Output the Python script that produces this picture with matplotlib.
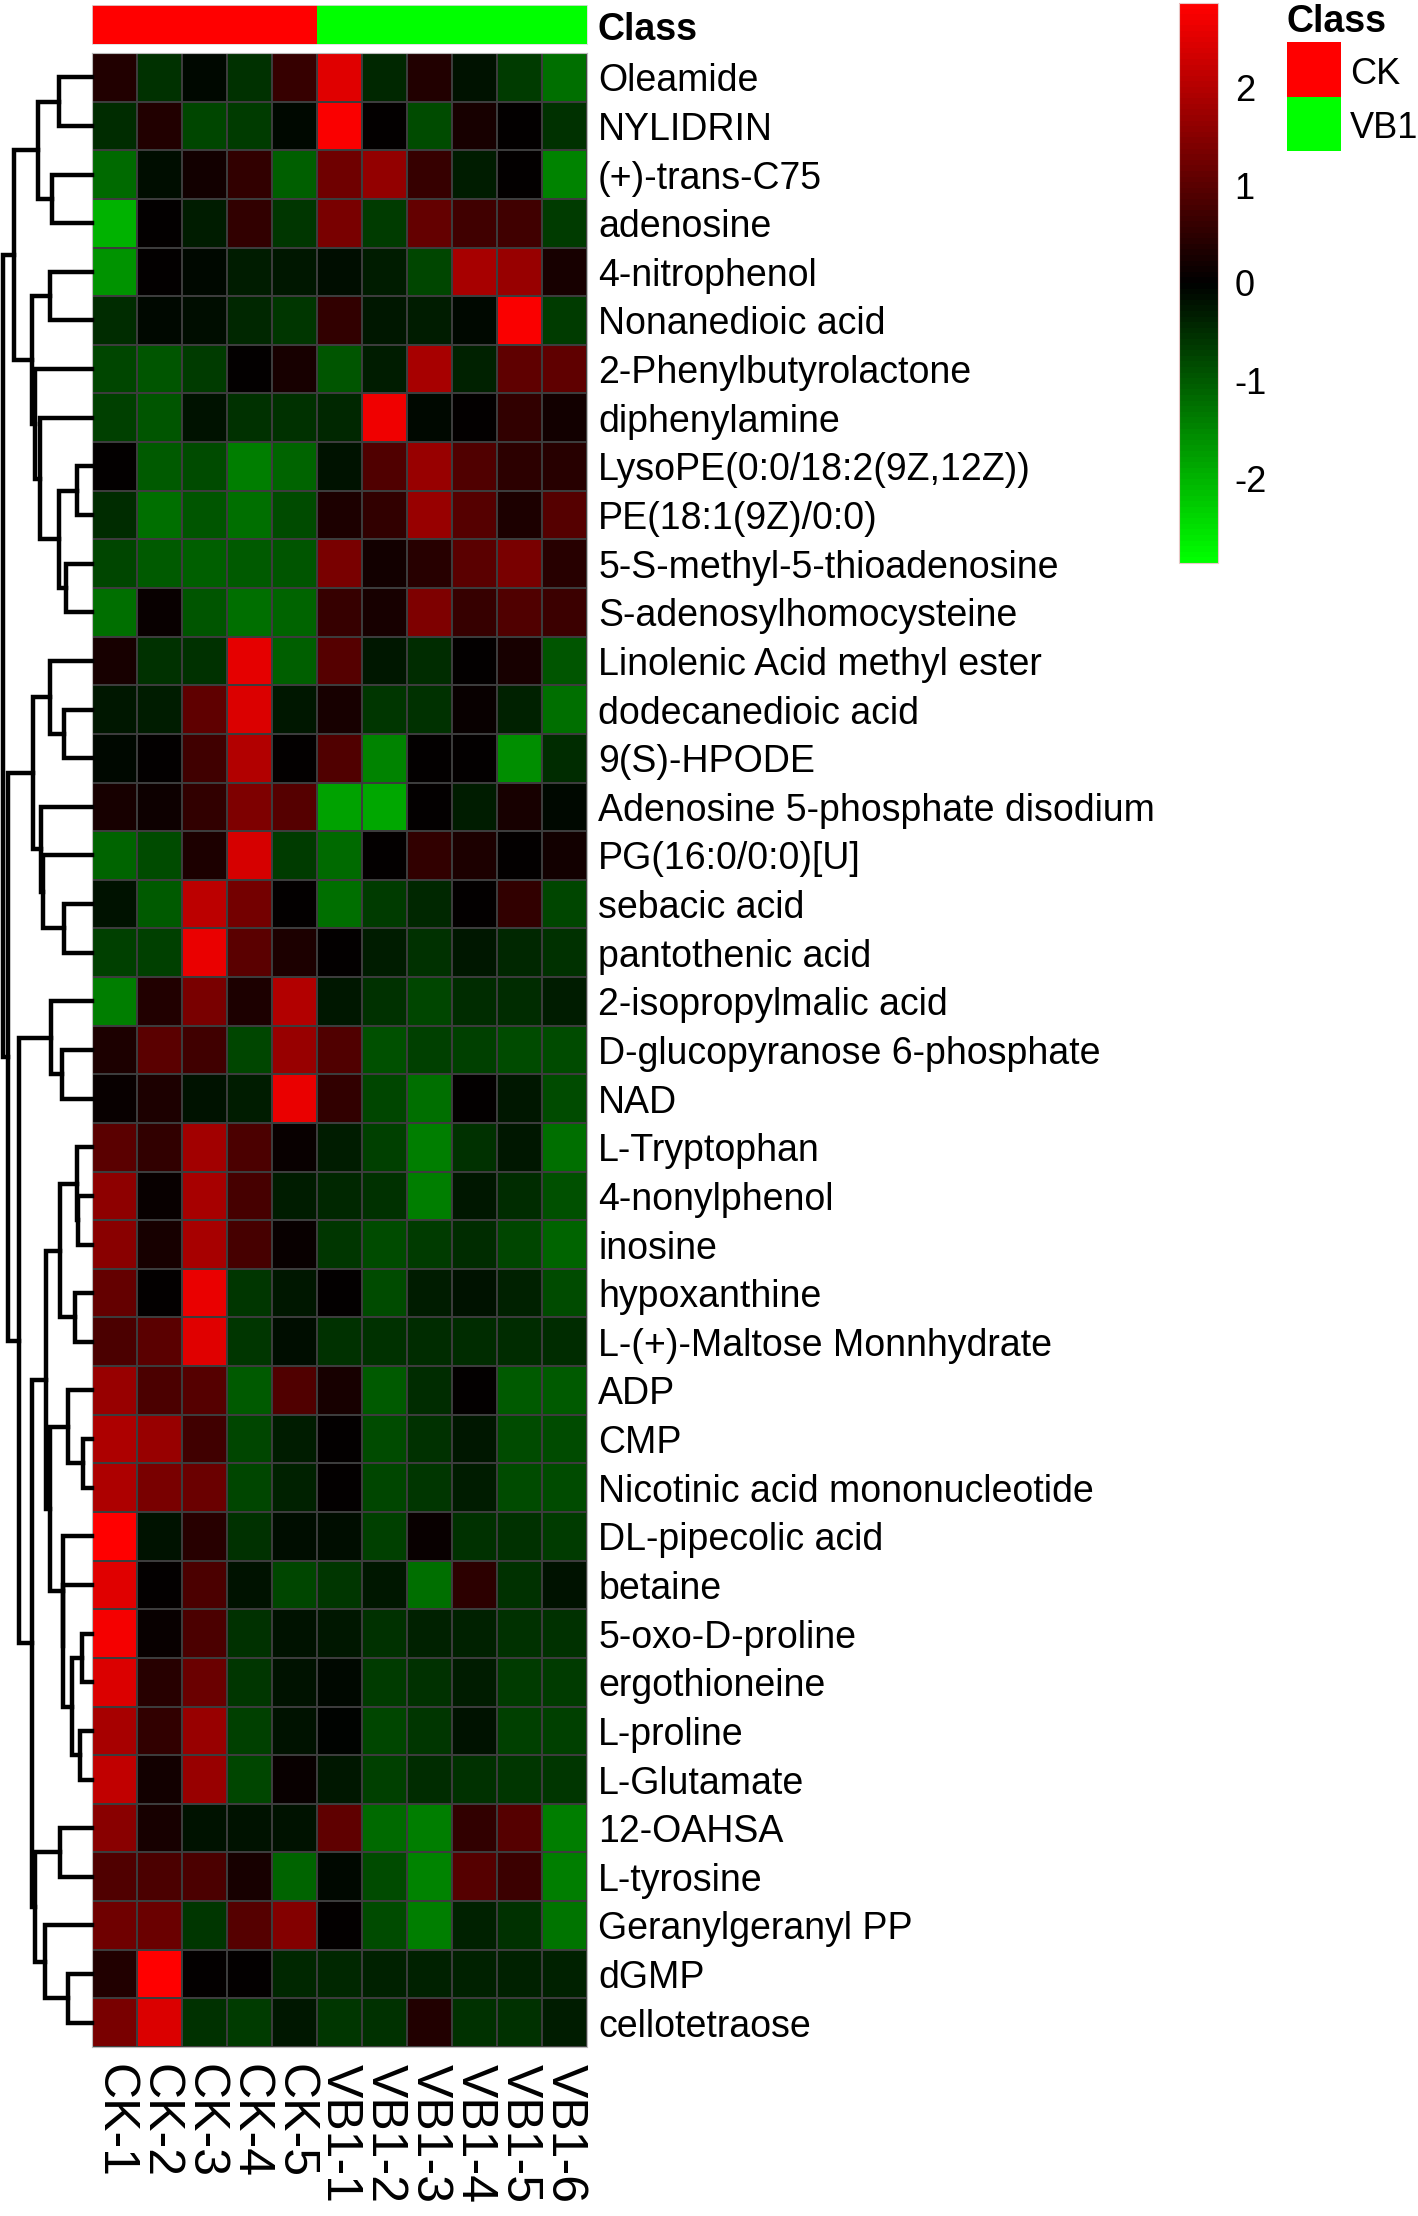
import numpy as np
import matplotlib
matplotlib.use("Agg")
import matplotlib.pyplot as plt
from matplotlib.colors import LinearSegmentedColormap, ListedColormap
from matplotlib.patches import Rectangle

plt.rcParams['font.family'] = ['Liberation Sans', 'DejaVu Sans']
plt.rcParams['axes.unicode_minus'] = False

# samples (columns) and their class
samples = ['CK-1', 'CK-2', 'CK-3', 'CK-4', 'CK-5',
           'VB1-1', 'VB1-2', 'VB1-3', 'VB1-4', 'VB1-5', 'VB1-6']
sample_class = ['CK', 'CK', 'CK', 'CK', 'CK',
                'VB1', 'VB1', 'VB1', 'VB1', 'VB1', 'VB1']
class_names = ['CK', 'VB1']
class_colors = ['#ff0000', '#00ff00']

metabolites = [
    'Oleamide', 'NYLIDRIN', '(+)-trans-C75', 'adenosine', '4-nitrophenol',
    'Nonanedioic acid', '2-Phenylbutyrolactone', 'diphenylamine',
    'LysoPE(0:0/18:2(9Z,12Z))', 'PE(18:1(9Z)/0:0)', '5-S-methyl-5-thioadenosine',
    'S-adenosylhomocysteine', 'Linolenic Acid methyl ester', 'dodecanedioic acid',
    '9(S)-HPODE', 'Adenosine 5-phosphate disodium', 'PG(16:0/0:0)[U]',
    'sebacic acid', 'pantothenic acid', '2-isopropylmalic acid',
    'D-glucopyranose 6-phosphate', 'NAD', 'L-Tryptophan', '4-nonylphenol',
    'inosine', 'hypoxanthine', 'L-(+)-Maltose Monnhydrate', 'ADP', 'CMP',
    'Nicotinic acid mononucleotide', 'DL-pipecolic acid', 'betaine',
    '5-oxo-D-proline', 'ergothioneine', 'L-proline', 'L-Glutamate',
    '12-OAHSA', 'L-tyrosine', 'Geranylgeranyl PP', 'dGMP', 'cellotetraose']

# row z-scores, one list per metabolite, columns in sample order
z = [
    [0.36, -0.57, -0.11, -0.57, 0.63, 2.52, -0.45, 0.38, -0.18, -0.65, -1.26],
    [-0.47, 0.36, -0.77, -0.65, -0.11, 2.76, 0.0, -0.81, 0.27, 0.0, -0.54],
    [-1.19, -0.14, 0.18, 0.54, -1.08, 1.26, 1.62, 0.63, -0.34, 0.05, -1.44],
    [-1.98, 0.0, -0.34, 0.54, -0.63, 1.35, -0.65, 1.10, 0.72, 0.74, -0.65],
    [-1.62, 0.0, -0.11, -0.34, -0.27, -0.14, -0.32, -0.77, 1.89, 1.71, 0.23],
    [-0.50, -0.07, -0.14, -0.43, -0.63, 0.54, -0.23, -0.32, -0.07, 2.76, -0.65],
    [-0.77, -0.95, -0.68, 0.0, 0.23, -0.92, -0.32, 1.89, -0.36, 1.08, 1.08],
    [-0.72, -0.95, -0.18, -0.54, -0.54, -0.41, 2.68, -0.07, 0.0, 0.56, 0.20],
    [0.0, -0.99, -0.86, -1.40, -1.10, -0.18, 0.90, 1.71, 0.90, 0.50, 0.45],
    [-0.47, -1.22, -0.92, -1.22, -0.81, 0.32, 0.54, 1.69, 0.97, 0.34, 0.92],
    [-0.77, -1.01, -1.06, -1.01, -0.92, 1.35, 0.20, 0.41, 1.01, 1.33, 0.45],
    [-1.26, 0.07, -0.92, -1.22, -1.13, 0.59, 0.25, 1.40, 0.61, 0.90, 0.65],
    [0.27, -0.54, -0.54, 2.54, -1.04, 0.97, -0.27, -0.50, 0.0, 0.23, -0.92],
    [-0.27, -0.29, 1.08, 2.43, -0.23, 0.23, -0.63, -0.52, 0.11, -0.38, -1.26],
    [-0.11, 0.0, 0.72, 1.96, 0.0, 0.90, -1.46, 0.0, 0.0, -1.58, -0.47],
    [0.27, 0.14, 0.54, 1.40, 0.92, -1.80, -1.89, 0.0, -0.29, 0.27, -0.11],
    [-1.13, -0.86, 0.29, 2.39, -0.68, -1.19, 0.0, 0.54, 0.29, 0.05, 0.20],
    [-0.20, -0.99, 2.12, 1.31, 0.0, -1.24, -0.65, -0.45, 0.0, 0.56, -0.77],
    [-0.72, -0.72, 2.59, 1.01, 0.29, 0.0, -0.29, -0.52, -0.25, -0.41, -0.52],
    [-1.40, 0.36, 1.35, 0.29, 1.98, -0.25, -0.56, -0.77, -0.50, -0.50, -0.29],
    [0.32, 1.01, 0.74, -0.77, 1.69, 0.88, -0.88, -0.72, -0.72, -0.83, -0.83],
    [0.09, 0.32, -0.20, -0.32, 2.63, 0.54, -0.77, -1.22, 0.0, -0.23, -0.86],
    [0.99, 0.54, 1.82, 0.86, 0.11, -0.29, -0.72, -1.40, -0.56, -0.27, -1.22],
    [1.60, 0.11, 1.85, 0.77, -0.29, -0.43, -0.52, -1.40, -0.23, -0.50, -0.90],
    [1.53, 0.27, 1.85, 0.77, 0.07, -0.61, -0.83, -0.68, -0.50, -0.77, -1.13],
    [1.13, 0.05, 2.59, -0.59, -0.23, 0.0, -0.86, -0.29, -0.20, -0.36, -0.83],
    [0.81, 1.01, 2.48, -0.59, -0.16, -0.54, -0.54, -0.47, -0.47, -0.47, -0.47],
    [1.67, 0.81, 0.92, -1.01, 0.90, 0.27, -1.01, -0.50, 0.0, -0.99, -0.99],
    [1.94, 1.67, 0.72, -0.77, -0.29, 0.0, -0.83, -0.52, -0.27, -0.81, -0.81],
    [1.91, 1.35, 1.19, -0.77, -0.36, 0.05, -0.79, -0.63, -0.29, -0.81, -0.81],
    [2.87, -0.20, 0.43, -0.52, -0.14, -0.14, -0.72, 0.07, -0.52, -0.52, -0.65],
    [2.48, 0.0, 0.83, -0.18, -0.79, -0.63, -0.25, -1.22, 0.50, -0.52, -0.20],
    [2.75, 0.11, 0.81, -0.52, -0.20, -0.23, -0.54, -0.36, -0.36, -0.54, -0.54],
    [2.43, 0.45, 1.17, -0.63, -0.20, -0.09, -0.65, -0.54, -0.29, -0.68, -0.68],
    [1.89, 0.54, 1.71, -0.72, -0.20, -0.05, -0.79, -0.61, -0.20, -0.72, -0.72],
    [2.16, 0.20, 1.71, -0.77, 0.11, -0.23, -0.72, -0.50, -0.56, -0.63, -0.63],
    [1.53, 0.27, -0.18, -0.18, -0.18, 1.08, -1.19, -1.40, 0.54, 0.95, -1.40],
    [0.90, 0.86, 0.81, 0.27, -1.13, -0.11, -0.86, -1.44, 0.97, 0.65, -1.42],
    [1.22, 1.17, -0.63, 0.97, 1.44, 0.0, -0.81, -1.40, -0.38, -0.54, -1.31],
    [0.36, 2.87, 0.0, 0.0, -0.43, -0.43, -0.36, -0.36, -0.38, -0.38, -0.38],
    [1.35, 2.43, -0.54, -0.65, -0.23, -0.63, -0.54, 0.36, -0.52, -0.52, -0.34],
]

# row dendrogram, scipy-like: (left id, right id, height); merge k gets id 41 + k
row_merges = [
    (8, 9, 15), (10, 11, 26), (41, 42, 33), (7, 43, 52), (6, 44, 57),
    (4, 5, 42), (46, 45, 60), (0, 1, 33), (2, 3, 40), (48, 49, 54),
    (50, 47, 78), (13, 14, 28), (12, 52, 42), (17, 18, 28), (16, 54, 49),
    (15, 55, 51), (53, 56, 59.5), (20, 21, 30), (19, 58, 41), (23, 24, 13.7),
    (22, 60, 15), (25, 26, 17), (61, 62, 32), (28, 29, 9), (27, 64, 24),
    (32, 33, 10), (34, 35, 12), (66, 67, 20), (31, 68, 28.7), (30, 69, 29.3),
    (65, 70, 42), (63, 71, 46), (36, 37, 32), (39, 40, 24), (38, 74, 47),
    (73, 75, 57), (72, 76, 60.3), (59, 77, 73), (57, 78, 83.7), (51, 79, 88.7),
]

W, H = 1418, 2216
fig = plt.figure(figsize=(W / 100, H / 100), dpi=100)


def box(x0, y0, x1, y1):
    # pixel box (top-left origin) -> figure fraction rect
    return [x0 / W, 1 - y1 / H, (x1 - x0) / W, (y1 - y0) / H]


cmap = LinearSegmentedColormap.from_list('gkr', ['#00ff00', '#000000', '#ff0000'], N=100)
vlim = 2.87
nrow, ncol = len(metabolites), len(samples)

# heatmap
ax = fig.add_axes(box(92, 53, 587, 2047))
mesh = ax.pcolormesh(np.array(z), cmap=cmap, vmin=-vlim, vmax=vlim,
                     edgecolors='#3c3c3c', linewidth=0.15)
ax.set_xlim(0, ncol)
ax.set_ylim(nrow, 0)
ax.yaxis.tick_right()
ax.set_yticks(np.arange(nrow) + 0.5, metabolites, fontsize=27)
ax.set_xticks(np.arange(ncol) + 0.5, samples, fontsize=36, rotation=270)
ax.tick_params(length=0)
ax.tick_params(axis='y', pad=8)
ax.tick_params(axis='x', pad=12)
for s in ax.spines.values():
    s.set_color('#bbbbbb')
    s.set_linewidth(0.8)

# class annotation bar
axc = fig.add_axes(box(92, 5, 587, 44))
codes = np.array([[class_names.index(c) for c in sample_class]])
axc.pcolormesh(codes, cmap=ListedColormap(class_colors), vmin=0, vmax=1)
axc.set_xlim(0, ncol)
axc.set_xticks([])
axc.set_yticks([])
for s in axc.spines.values():
    s.set_color('#dddddd')
    s.set_linewidth(0.6)
axc.text(1.022, 0.45, 'Class', transform=axc.transAxes, fontsize=27,
         fontweight='bold', ha='left', va='center_baseline')

# row dendrogram
axd = fig.add_axes(box(0, 53, 92, 2047))
pos = {i: i + 0.5 for i in range(nrow)}
hgt = {i: 0.0 for i in range(nrow)}
for k, (a, b, h) in enumerate(row_merges):
    axd.plot([hgt[a], h, h, hgt[b]], [pos[a], pos[a], pos[b], pos[b]],
             color='black', lw=3.2, solid_joinstyle='miter', clip_on=False)
    pos[nrow + k] = (pos[a] + pos[b]) / 2
    hgt[nrow + k] = h
axd.set_xlim(92, 0)
axd.set_ylim(nrow, 0)
axd.axis('off')

# colour scale
axcb = fig.add_axes(box(1179, 3, 1218, 563))
cb = fig.colorbar(mesh, cax=axcb, ticks=[-2, -1, 0, 1, 2])
cb.ax.tick_params(length=0, labelsize=26, pad=12)
cb.outline.set_edgecolor('#e8c8c8')
cb.outline.set_linewidth(0.8)

# class legend
axl = fig.add_axes(box(1280, 0, 1418, 170))
axl.set_xlim(1280, 1418)
axl.set_ylim(170, 0)
axl.axis('off')
axl.text(1287, 18, 'Class', fontsize=27, fontweight='bold',
         va='center_baseline', ha='left')
for i, (lab, col) in enumerate(zip(class_names, class_colors)):
    axl.add_patch(Rectangle((1287, 42 + 54.5 * i), 54, 54.5, color=col, lw=0))
    axl.text(1350, 70 + 54.5 * i, lab, fontsize=26, va='center_baseline', ha='left')

fig.savefig('out.png', dpi=100)
